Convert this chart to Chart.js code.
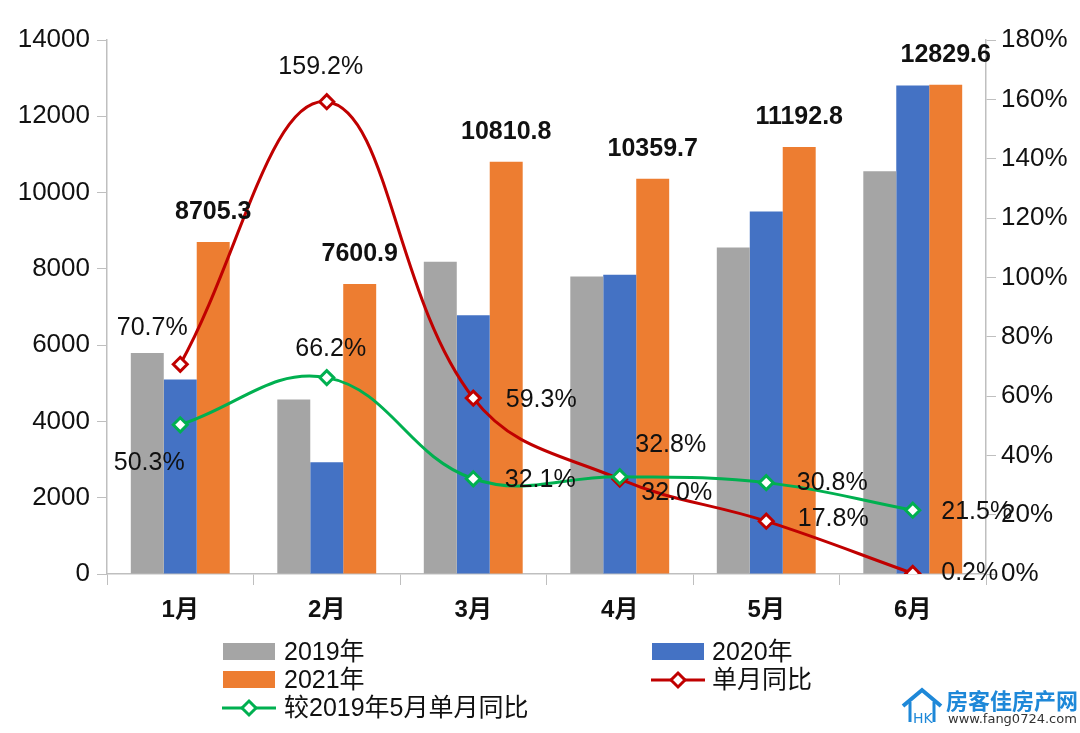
<!DOCTYPE html>
<html>
<head>
<meta charset="utf-8">
<script src="https://cdn.jsdelivr.net/npm/chart.js@4.4.0/dist/chart.umd.min.js"></script>
<style>
  body { margin: 0; background: #fff; }
  #wrap { position: relative; width: 1080px; height: 733px; font-family: "Liberation Sans", "Noto Sans CJK SC", sans-serif; }
  canvas { position: absolute; left: 0; top: 0; }
  .lg { position: absolute; font-size: 25px; color: #111; line-height: 28px; white-space: nowrap; }
  .sw { position: absolute; width: 52px; height: 17px; }
  .wm1 { position: absolute; left: 946px; top: 683px; font-size: 22px; font-weight: bold; color: #1e88d8; font-family: "Noto Sans CJK SC", sans-serif; }
  .wm2 { position: absolute; left: 948px; top: 711px; font-size: 13px; color: #333; font-family: "DejaVu Sans", sans-serif; }
</style>
</head>
<body>
<div id="wrap">
  <canvas id="chart" width="1080" height="733"></canvas>

  <!-- leyenda -->
  <div class="sw" style="left:223px; top:643px; background:#a5a5a5;"></div>
  <div class="lg" style="left:284px; top:637px;">2019年</div>
  <div class="sw" style="left:652px; top:643px; background:#4472c4;"></div>
  <div class="lg" style="left:712px; top:637px;">2020年</div>
  <div class="sw" style="left:223px; top:671px; background:#ed7d31;"></div>
  <div class="lg" style="left:284px; top:665px;">2021年</div>
  <svg style="position:absolute; left:649px; top:669px;" width="60" height="22">
    <line x1="2" y1="11" x2="56" y2="11" stroke="#c00000" stroke-width="3"/>
    <path d="M29 4 L36 11 L29 18 L22 11 Z" fill="#fff" stroke="#c00000" stroke-width="3"/>
  </svg>
  <div class="lg" style="left:712px; top:665px;">单月同比</div>
  <svg style="position:absolute; left:220px; top:697px;" width="60" height="22">
    <line x1="2" y1="11" x2="56" y2="11" stroke="#00b050" stroke-width="3"/>
    <path d="M29 4 L36 11 L29 18 L22 11 Z" fill="#fff" stroke="#00b050" stroke-width="3"/>
  </svg>
  <div class="lg" style="left:284px; top:693px;">较2019年5月单月同比</div>

  <!-- marca de agua -->
  <svg style="position:absolute; left:900px; top:686px;" width="44" height="40">
    <path d="M3 20 L22 4 L41 20" fill="none" stroke="#1e88d8" stroke-width="4"/>
    <path d="M10 16 L10 36 M34 16 L34 36" fill="none" stroke="#1e88d8" stroke-width="3"/>
    <text x="13" y="37" font-size="14" font-family="DejaVu Sans" fill="#1e88d8">HK</text>
  </svg>
  <div class="wm1">房客佳房产网</div>
  <div class="wm2">www.fang0724.com</div>
</div>

<script>
// Datos del gráfico
const meses = ['1月', '2月', '3月', '4月', '5月', '6月'];
const ventas2019 = [5792, 4573, 8184, 7801, 8557, 10559];
const ventas2020 = [5100, 2932, 6786, 7848, 9502, 12804];
const ventas2021 = [8705.3, 7600.9, 10810.8, 10359.7, 11192.8, 12829.6];
const interanual = [70.7, 159.2, 59.3, 32.0, 17.8, 0.2];     // 单月同比 (%)
const vs2019 = [50.3, 66.2, 32.1, 32.8, 30.8, 21.5];         // 较2019年5月单月同比 (%)
const ticksIzq = [0, 2000, 4000, 6000, 8000, 10000, 12000, 14000];
const ticksDer = [0, 20, 40, 60, 80, 100, 120, 140, 160, 180];

const FUENTE = '"Liberation Sans", "Noto Sans CJK SC", sans-serif';

// Desplazamiento de las etiquetas de las líneas (en píxeles respecto al punto)
const offRojo = [[-28, -36], [-6, -35], [68, 2], [57, 14], [67, -2], [57, 0]];
const offVerde = [[-31, 38], [4, -28], [67, 1], [51, -32], [66, 0], [64, 2]];

// Plugin para dibujar las etiquetas de datos
const etiquetas = {
    id: 'etiquetas',
    afterDatasetsDraw(chart) {
        const ctx = chart.ctx;
        ctx.save();
        ctx.textAlign = 'center';
        ctx.textBaseline = 'middle';
        ctx.fillStyle = '#111';

        // Valores de 2021 encima de las barras naranjas
        ctx.font = 'bold 25px ' + FUENTE;
        chart.getDatasetMeta(2).data.forEach((bar, i) => {
            ctx.fillText(ventas2021[i].toFixed(1), bar.x, bar.y - 30);
        });

        ctx.font = '25px ' + FUENTE;
        chart.getDatasetMeta(3).data.forEach((p, i) => {
            ctx.fillText(interanual[i].toFixed(1) + '%', p.x + offRojo[i][0], p.y + offRojo[i][1]);
        });
        chart.getDatasetMeta(4).data.forEach((p, i) => {
            ctx.fillText(vs2019[i].toFixed(1) + '%', p.x + offVerde[i][0], p.y + offVerde[i][1]);
        });
        ctx.restore();
    }
};

const ctx = document.getElementById('chart').getContext('2d');
const chart = new Chart(ctx, {
    data: {
        labels: meses,
        datasets: [
            { type: 'bar', label: '2019年', data: ventas2019, backgroundColor: '#a5a5a5', yAxisID: 'y', order: 3 },
            { type: 'bar', label: '2020年', data: ventas2020, backgroundColor: '#4472c4', yAxisID: 'y', order: 3 },
            { type: 'bar', label: '2021年', data: ventas2021, backgroundColor: '#ed7d31', yAxisID: 'y', order: 3 },
            {
                type: 'line', label: '单月同比', data: interanual, yAxisID: 'y1', order: 1,
                borderColor: '#c00000', borderWidth: 3, tension: 0.4,
                pointStyle: 'rectRot', pointRadius: 7, pointBorderWidth: 3,
                pointBackgroundColor: '#fff', pointBorderColor: '#c00000'
            },
            {
                type: 'line', label: '较2019年5月单月同比', data: vs2019, yAxisID: 'y1', order: 0,
                borderColor: '#00b050', borderWidth: 3, tension: 0.4,
                pointStyle: 'rectRot', pointRadius: 7, pointBorderWidth: 3,
                pointBackgroundColor: '#fff', pointBorderColor: '#00b050'
            }
        ]
    },
    options: {
        responsive: false,
        animation: false,
        layout: { padding: { top: 40, left: 0, right: 0, bottom: 0 } },
        datasets: {
            bar: { categoryPercentage: 0.675, barPercentage: 1.0 }
        },
        plugins: {
            legend: { display: false },
            tooltip: { enabled: false }
        },
        scales: {
            x: {
                grid: { display: true, drawOnChartArea: false, tickLength: 11, color: '#bfbfbf', offset: true },
                border: { color: '#bfbfbf', width: 1.5 },
                ticks: { font: { size: 24, weight: 'bold', family: FUENTE }, color: '#111', padding: 11 },
                afterFit(scale) { scale.height = 733 - 574; }
            },
            y: {
                position: 'left',
                min: 0, max: 14000,
                afterBuildTicks(scale) { scale.ticks = ticksIzq.map(v => ({ value: v })); },
                grid: { drawOnChartArea: false, tickLength: 10, color: '#bfbfbf' },
                border: { color: '#bfbfbf', width: 1.5 },
                ticks: { font: { size: 26, family: FUENTE }, color: '#111', padding: 7, callback: v => String(v) },
                afterFit(scale) { scale.width = 107; }
            },
            y1: {
                position: 'right',
                min: 0, max: 180,
                afterBuildTicks(scale) { scale.ticks = ticksDer.map(v => ({ value: v })); },
                grid: { drawOnChartArea: false, tickLength: 10, color: '#bfbfbf' },
                border: { color: '#bfbfbf', width: 1.5 },
                ticks: { font: { size: 26, family: FUENTE }, color: '#111', padding: 5, callback: v => v + '%' },
                afterFit(scale) { scale.width = 1080 - 986; }
            }
        }
    },
    plugins: [etiquetas]
});
</script>
</body>
</html>
